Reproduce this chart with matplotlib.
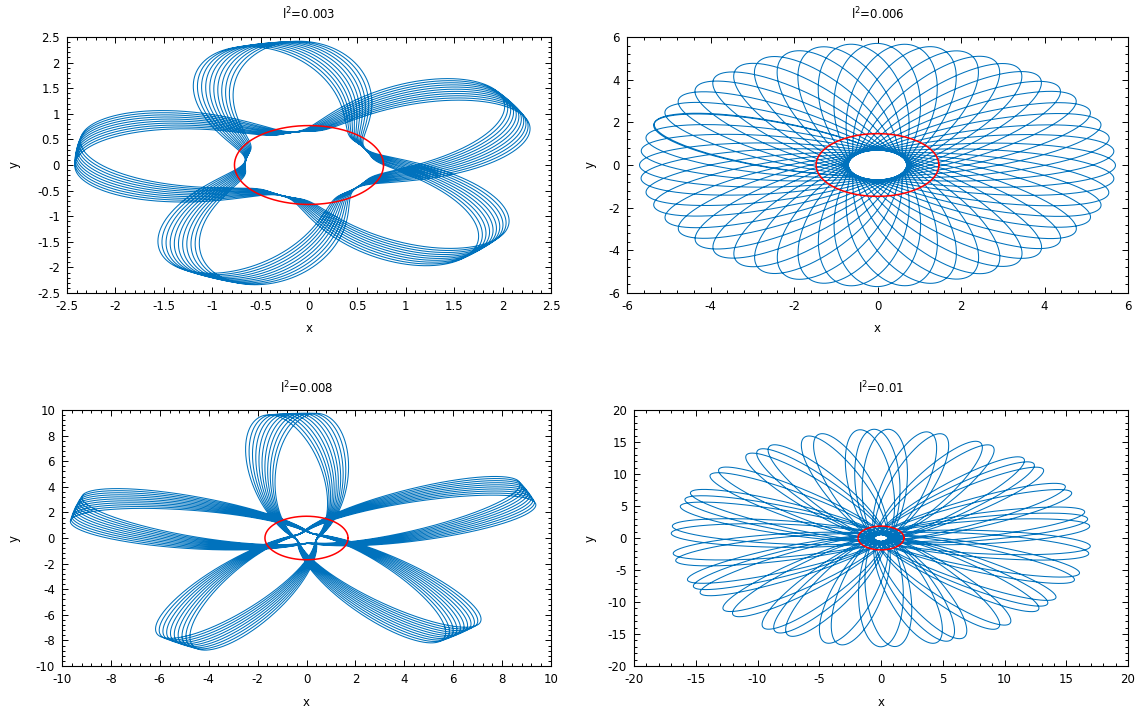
import numpy as np
import matplotlib
matplotlib.use("Agg")
import matplotlib.pyplot as plt
from matplotlib.ticker import MultipleLocator, AutoMinorLocator, FormatStrFormatter

# ---- values ----
l2_values = [0.003, 0.006, 0.008, 0.01]
r_peri = [0.66, 0.70, 0.42, 0.55]          # pericentre radius
r_apo = [2.42, 5.70, 9.75, 17.0]           # apocentre radius
apsidal_deg = [72.16, 93.466, 108.12, 139.18]   # angle swept pericentre -> apocentre
radial_power = [-1.0, 0.75, 0.8, 0.75]     # r**(-q) varies smoothly between apsides
petal_sharpness = [1.8, 1.5, 1.0, 3.0]     # shape exponent between apsides
n_orbits = [53, 53, 53, 53]
first_apo_deg = [93.0, 159.0, 87.5, 88.0]  # direction of the first apocentre
red_radius = [0.77, 1.47, 1.70, 1.86]
axis_limit = [2.5, 6, 10, 20]
tick_step = [0.5, 2, 2, 5]

BLUE = "#0072bd"
RED = "#ff0000"

W, H = 1145, 711
plt.rcParams['font.family'] = ['DejaVu Sans']
plt.rcParams['axes.unicode_minus'] = False
fig = plt.figure(figsize=(W / 100, H / 100), dpi=100)

# axes rectangles in pixels: left, right, top, bottom
boxes = [(67, 551, 37, 293), (627, 1128, 37, 293),
         (62, 551, 410, 666), (634, 1128, 410, 666)]
ylab_x = [14, 590, 14, 590]
title_y = [14, 14, 388, 388]
xlab_y = [328, 328, 703, 703]


def fwd(r, q):
    return np.log(r) if q == 0 else r ** (-q)


def inv(f, q):
    return np.exp(f) if q == 0 else f ** (-1.0 / q)


FS = 8.5
for i in range(4):
    l, r, t, b = boxes[i]
    ax = fig.add_axes([l / W, 1 - b / H, (r - l) / W, (b - t) / H])
    rp, ra, q = r_peri[i], r_apo[i], radial_power[i]
    delta = apsidal_deg[i]
    k = 180.0 / delta
    npts = n_orbits[i] * 2000
    psi = np.linspace(0, 2 * np.pi * n_orbits[i], npts)
    s = (1 - np.cos(psi)) / 2
    fp, fa = fwd(rp, q), fwd(ra, q)
    rr = inv(fp + (fa - fp) * s ** petal_sharpness[i], q)
    phi = np.radians(first_apo_deg[i] - delta) + psi / k
    ax.plot(rr * np.cos(phi), rr * np.sin(phi), color=BLUE, lw=0.75, zorder=2)
    th = np.linspace(0, 2 * np.pi, 400)
    ax.plot(red_radius[i] * np.cos(th), red_radius[i] * np.sin(th),
            color=RED, lw=1.1, zorder=3)

    lim = axis_limit[i]
    ax.set_xlim(-lim, lim)
    ax.set_ylim(-lim, lim)
    ax.xaxis.set_major_locator(MultipleLocator(tick_step[i]))
    ax.yaxis.set_major_locator(MultipleLocator(tick_step[i]))
    ax.xaxis.set_minor_locator(AutoMinorLocator(5))
    ax.yaxis.set_minor_locator(AutoMinorLocator(5))
    ax.xaxis.set_major_formatter(FormatStrFormatter('%g'))
    ax.yaxis.set_major_formatter(FormatStrFormatter('%g'))
    ax.tick_params(which='both', direction='in', top=True, right=True,
                   labelsize=FS, width=0.7, colors='black')
    ax.tick_params(which='major', length=4.5)
    ax.tick_params(which='minor', length=2.2)
    ax.tick_params(axis='x', pad=5)
    ax.tick_params(axis='y', pad=5)
    for sp in ax.spines.values():
        sp.set_linewidth(0.8)

    fig.text((l + r) / 2 / W, 1 - title_y[i] / H,
             r'l$^{2}$=' + f'{l2_values[i]:g}', ha='center', va='center', fontsize=FS)
    fig.text((l + r) / 2 / W, 1 - xlab_y[i] / H, 'x', ha='center', va='center', fontsize=FS)
    fig.text(ylab_x[i] / W, 1 - (t + b) / 2 / H, 'y', ha='center', va='center',
             rotation=90, fontsize=FS)

fig.savefig("out.png", dpi=100)
